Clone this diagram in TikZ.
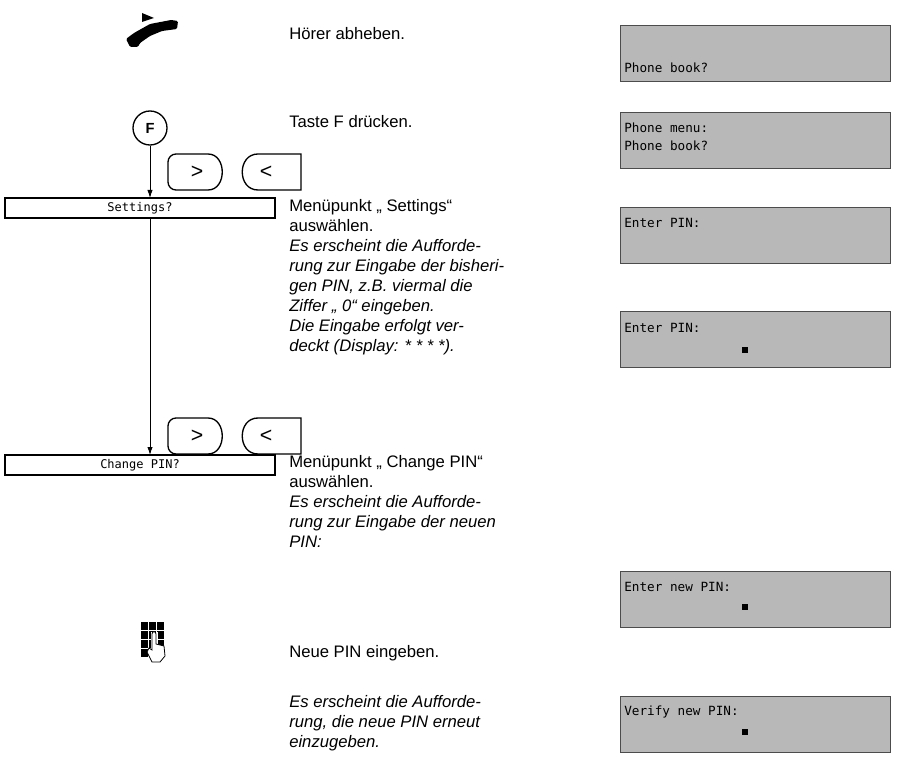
\documentclass[tikz,border=0pt]{standalone}
\usepackage{fontspec}
\setmainfont{Liberation Sans}
\newfontfamily\dispfont{DejaVu Sans Mono}
\begin{document}
\begin{tikzpicture}[x=0.75pt,y=-0.75pt,
  txt/.style={anchor=north west,inner sep=0pt,font=\fontsize{12.5}{15}\selectfont,align=left},
  disp/.style={draw=black!70,fill=black!28,line width=0.8pt,minimum width=270*0.75pt,minimum height=56*0.75pt,anchor=north west,inner sep=0pt},
  dtext/.style={anchor=west,inner sep=0pt,font=\dispfont\fontsize{9.5}{10}\selectfont},
  menu/.style={draw,line width=0.8pt,minimum width=270*0.75pt,minimum height=20*0.75pt,inner sep=0pt,font=\dispfont\fontsize{9}{10}\selectfont},
  flow/.style={line width=0.6pt,-{Latex[length=6pt,width=4pt]}},
  cur/.style={fill=black,minimum size=5pt,inner sep=0pt}]
\usetikzlibrary{arrows.meta}
\useasboundingbox (0,0) rectangle (898,762);
% handset
\fill[rounded corners=1pt] (138,47) -- (140,43) -- (150,36) -- (162,31) -- (177,29) -- (178,21) -- (171,20) -- (150,24) -- (134,33) -- (126,39) -- (130,47) -- cycle;
\fill (142,13) -- (154,18) -- (142,22) -- cycle;
% F button
\node[circle,draw,line width=1pt,minimum size=34*0.75pt,inner sep=0pt,font=\bfseries\fontsize{11}{12}\selectfont] (F) at (150,128) {F};
% menu boxes
\node[menu] (set) at (140,208) {Settings?};
\node[menu] (chg) at (140,465) {Change PIN?};
\coordinate (s1) at (150,198);
\coordinate (s2) at (150,218);
\coordinate (c1) at (150,455);
\draw[flow] (F.south) -- (s1);
\draw[flow] (s2) -- (c1);
% arrow keys
\foreach \y/\n in {154/a,418/b}{
  \draw[line width=1pt,line join=round] (208,\y) .. controls (227,\y) and (227,\y+36) .. (208,\y+36)
     {[rounded corners=6pt] -- (168,\y+36) -- (168,\y) -- (208,\y)};
  \node[font=\fontsize{16}{16}\selectfont] (gt\n) at (197,\y+18) {>};
  \draw[line width=1pt] (301,\y) -- (258,\y) .. controls (237,\y) and (237,\y+36) .. (258,\y+36) -- (301,\y+36) -- cycle;
  \node[font=\fontsize{16}{16}\selectfont] (lt\n) at (266,\y+18) {<};
}
% keypad
\foreach \i in {0,1,2}{\foreach \j in {0,1,2,3}{
  \fill (141+\i*8,622+\j*9) rectangle ++(6.5,7.5);}}
\fill[white] (150.5,632) rectangle (158,664);
\draw[fill=white,line width=0.6pt] (152,644) -- (152,634) .. controls (152,631) and (156,631) .. (156,634) -- (156,644) -- (164,646) -- (165,656) -- (160,662) -- (152,662) -- (147,652) -- (149,648) -- (152,650) -- cycle;
% texts
\node[txt] (t1) at (289,27) {Hörer abheben.};
\node[txt] (t2) at (289,115) {Taste F drücken.};
\node[txt] (t3) at (289,199) {Menüpunkt „ Settings“\\auswählen.\\\textit{Es erscheint die Aufforde-}\\\textit{rung zur Eingabe der bisheri-}\\\textit{gen PIN, z.B. viermal die}\\\textit{Ziffer „ 0“ eingeben.}\\\textit{Die Eingabe erfolgt ver-}\\\textit{deckt (Display: * * * *).}};
\node[txt] (t4) at (289,455) {Menüpunkt „ Change PIN“\\auswählen.\\\textit{Es erscheint die Aufforde-}\\\textit{rung zur Eingabe der neuen}\\\textit{PIN:}};
\node[txt] (t5) at (289,645) {Neue PIN eingeben.};
\node[txt] (t6) at (289,695) {\textit{Es erscheint die Aufforde-}\\\textit{rung, die neue PIN erneut}\\\textit{einzugeben.}};
% displays
\node[disp] (d1) at (620,25) {};
\node[dtext] at (624,68) {Phone book?};
\node[disp] (d2) at (620,112) {};
\node[dtext] at (624,128) {Phone menu:};
\node[dtext] at (624,146) {Phone book?};
\node[disp] (d3) at (620,207) {};
\node[dtext] at (624,223) {Enter PIN:};
\node[disp] (d4) at (620,311) {};
\node[dtext] at (624,328) {Enter PIN:};
\node[cur] at (745,350) {};
\node[disp] (d5) at (620,571) {};
\node[dtext] at (624,587) {Enter new PIN:};
\node[cur] at (745,607) {};
\node[disp] (d6) at (620,696) {};
\node[dtext] at (624,712) {Verify new PIN:};
\node[cur] at (745,732) {};
\end{tikzpicture}
\end{document}
